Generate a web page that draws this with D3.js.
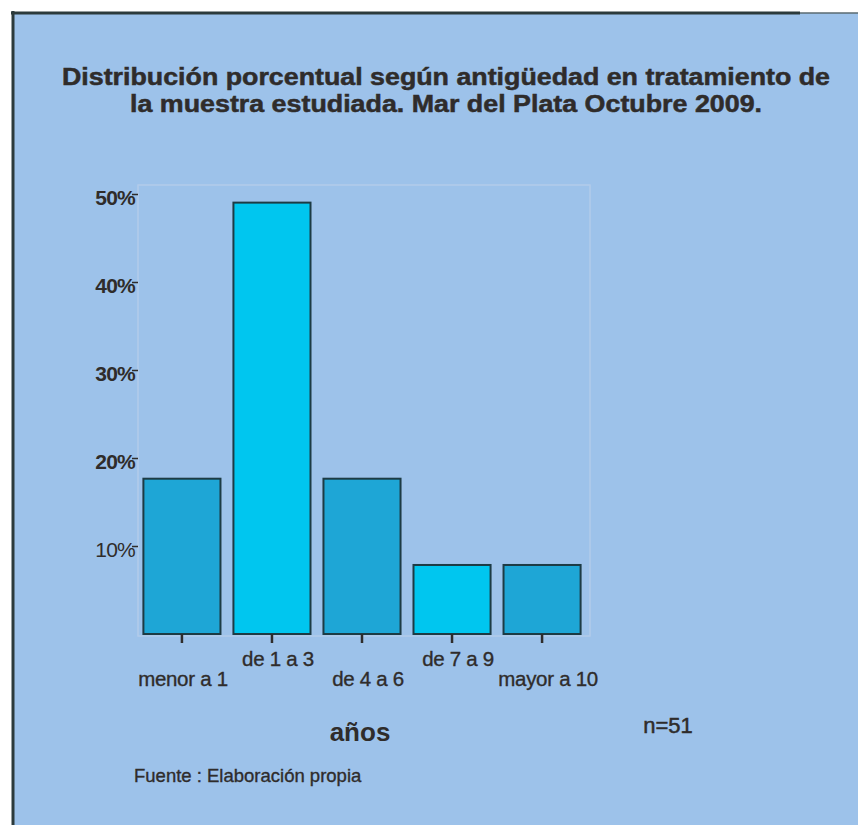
<!DOCTYPE html>
<html>
<head>
<meta charset="utf-8">
<script src="https://cdn.jsdelivr.net/npm/d3@7"></script>
<style>
  html, body { margin: 0; padding: 0; background: #ffffff; }
  svg { display: block; font-family: "Liberation Sans", Arial, sans-serif; }
</style>
</head>
<body>
<svg id="chart" width="858" height="825"></svg>
<script>
// Antigüedad en tratamiento (n = 51)
const categories = ["menor a 1", "de 1 a 3", "de 4 a 6", "de 7 a 9", "mayor a 10"];
const counts = [9, 25, 9, 4, 4];
const total = 51;
const percents = counts.map(c => c / total * 100);
const yTicks = [10, 20, 30, 40, 50];
const titleLines = [
  "Distribución porcentual según antigüedad en  tratamiento de",
  "la muestra estudiada. Mar del Plata Octubre 2009."
];

const W = 858, H = 825;
const ink = "#2f2c2b";
const font = "'Liberation Sans', Arial, sans-serif";
const svg = d3.select("#chart");

// panel background and border
svg.append("rect").attr("x", 13).attr("y", 13).attr("width", W - 13).attr("height", H - 13)
  .attr("fill", "#9dc2ea");
svg.append("line").attr("x1", 13).attr("x2", 13).attr("y1", 11).attr("y2", H)
  .attr("stroke", "#2c3a3c").attr("stroke-width", 3);
svg.append("line").attr("x1", 11).attr("x2", 800).attr("y1", 13).attr("y2", 13)
  .attr("stroke", "#2c3a3c").attr("stroke-width", 3);
svg.append("line").attr("x1", 800).attr("x2", W).attr("y1", 13).attr("y2", 13)
  .attr("stroke", "#5a6a70").attr("stroke-width", 1.5);

// title: two centred lines, widened to a heavy display face
const titleWidths = [768, 632];
titleLines.forEach((t, i) => {
  svg.append("text").attr("x", 446).attr("y", 85 + i * 27)
    .attr("text-anchor", "middle").attr("font-weight", "bold").attr("font-size", 23.5)
    .attr("fill", ink).attr("stroke", ink).attr("stroke-width", 0.5)
    .attr("textLength", titleWidths[i]).attr("lengthAdjust", "spacingAndGlyphs")
    .text(t);
});

// plot area
const plot = { left: 138, right: 590, top: 185, bottom: 634 };
const x = d3.scaleBand().domain(categories).range([138, 586]).paddingInner(0.144).paddingOuter(0.06);
const y = d3.scaleLinear().domain([0, 50]).range([plot.bottom, 194]);

svg.append("rect").attr("x", plot.left).attr("y", plot.top)
  .attr("width", plot.right - plot.left).attr("height", plot.bottom + 2 - plot.top)
  .attr("fill", "none").attr("stroke", "#b2cbea").attr("stroke-width", 1.5);

// bars
const barColors = ["#1ea6d6", "#00c6ef", "#1ea6d6", "#00c6ef", "#1ea6d6"];
svg.append("g").selectAll("rect").data(categories).join("rect")
  .attr("x", d => x(d))
  .attr("y", (d, i) => y(percents[i]))
  .attr("width", x.bandwidth())
  .attr("height", (d, i) => plot.bottom - y(percents[i]))
  .attr("fill", (d, i) => barColors[i])
  .attr("stroke", "#1d3b44").attr("stroke-width", 2);

// y axis
const yAxis = d3.axisLeft(y).tickValues(yTicks).tickSize(6).tickFormat(d => d + "%");
const gy = svg.append("g").attr("transform", `translate(${plot.left},0)`).call(yAxis);
gy.select(".domain").remove();
gy.selectAll(".tick line").attr("stroke", ink).attr("stroke-width", 1.5);
gy.selectAll(".tick text").attr("x", -3).attr("dy", "0.5em")
  .attr("font-size", 21).attr("fill", ink).attr("font-family", font)
  .attr("font-weight", d => d === 10 ? "normal" : "bold").attr("letter-spacing", -0.8);

// x axis with staggered labels
const xAxis = d3.axisBottom(x).tickSize(9).tickSizeOuter(0);
const gx = svg.append("g").attr("transform", `translate(0,${plot.bottom})`).call(xAxis);
gx.select(".domain").remove();
gx.selectAll(".tick line").attr("stroke", ink).attr("stroke-width", 2.5);
gx.selectAll(".tick text")
  .attr("y", (d, i) => i % 2 === 0 ? 52 : 32)
  .attr("dy", 0)
  .attr("dx", (d, i) => i === 0 ? 1 : 6)
  .attr("font-size", 20.5).attr("fill", ink).attr("font-family", font)
  .attr("stroke", ink).attr("stroke-width", 0.35).attr("letter-spacing", -0.3);

// axis title and notes
svg.append("text").attr("x", 360).attr("y", 741).attr("text-anchor", "middle")
  .attr("font-weight", "bold").attr("font-size", 26).attr("fill", ink).text("años");
svg.append("text").attr("x", 668).attr("y", 733).attr("text-anchor", "middle")
  .attr("font-size", 22).attr("fill", ink).attr("stroke", ink).attr("stroke-width", 0.5)
  .text("n=51");
svg.append("text").attr("x", 134).attr("y", 782)
  .attr("font-size", 18.5).attr("fill", ink).attr("stroke", ink).attr("stroke-width", 0.35)
  .text("Fuente : Elaboración propia");
</script>
</body>
</html>
